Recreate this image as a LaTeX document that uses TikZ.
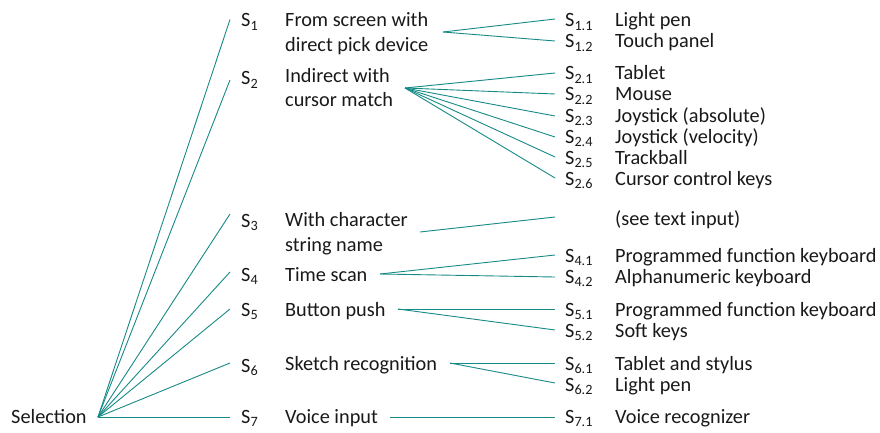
\documentclass[tikz,border=0pt]{standalone}
\usepackage{fontspec}
\setmainfont{Carlito}
\definecolor{lnk}{RGB}{22,138,134}
\definecolor{txt}{RGB}{25,25,25}
\begin{document}
\begin{tikzpicture}[x=1pt,y=-1pt,
  lbl/.style={anchor=base west, inner sep=0pt, text=txt, font=\fontsize{20.3}{24}\selectfont},
  conn/.style={draw=lnk, line width=0.9pt}]
\useasboundingbox (0,0) rectangle (880,433);
% root
\node[lbl] (sel) at (11,423) {Selection};
\coordinate (root) at (98,417);
% level 1 labels
\foreach \i/\y in {1/27,2/85,3/227,4/281,5/316,6/372,7/423}{
  \node[lbl] (s\i) at (241,\y) {S\textsubscript{\i}};
}
\node[lbl] (m1a) at (285,27) {From screen with};
\node[lbl] (m1b) at (285,51.5) {direct pick device};
\node[lbl] (m2a) at (285,82.5) {Indirect with};
\node[lbl] (m2b) at (285,106.5) {cursor match};
\node[lbl] (m3a) at (285,226.5) {With character};
\node[lbl] (m3b) at (285,251) {string name};
\node[lbl] (m4) at (285,281) {Time scan};
\node[lbl] (m5) at (285,316) {Button push};
\node[lbl] (m6) at (285,370.5) {Sketch recognition};
\node[lbl] (m7) at (285,423) {Voice input};
% leaves
\foreach \k/\y/\t in {1.1/27/Light pen, 1.2/48/Touch panel,
  2.1/80/Tablet, 2.2/101/Mouse, 2.3/122/Joystick (absolute), 2.4/143/Joystick (velocity),
  2.5/164/Trackball, 2.6/185/Cursor control keys,
  4.1/262.5/Programmed function keyboard, 4.2/283/Alphanumeric keyboard,
  5.1/316.5/Programmed function keyboard, 5.2/337/Soft keys,
  6.1/370/Tablet and stylus, 6.2/391/Light pen,
  7.1/423/Voice recognizer}{
  \node[lbl] (ls\k) at (565,\y) {S\textsubscript{\k}};
  \node[lbl] (lt\k) at (615,\y) {\t};
}
\node[lbl] (lt3) at (615,225) {(see text input)};
% joints
\foreach \i/\y in {1/19.5,2/80,3/214,4/272,5/309,6/363,7/417}{
  \coordinate (e\i) at (230,\y);
  \draw[conn] (root) -- (e\i);
}
\coordinate (j1) at (443,32);
\coordinate (j2) at (405,88);
\coordinate (j3) at (420,232);
\coordinate (j4) at (380,274);
\coordinate (j5) at (398,309);
\coordinate (j6) at (450,363);
\coordinate (j7) at (390,417);
\foreach \j/\y in {1/19,1/41,2/73,2/94,2/116,2/137,2/157,2/178,3/217,4/255,4/277,5/309,5/330,6/363,6/383,7/417}{
  \draw[conn] (j\j) -- (555,\y);
}
\end{tikzpicture}
\end{document}
